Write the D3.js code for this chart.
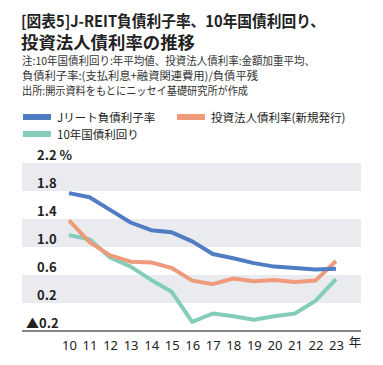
<!DOCTYPE html>
<html><head><meta charset="utf-8">
<script src="https://cdn.jsdelivr.net/npm/d3@7/dist/d3.min.js"></script>
<style>
html,body{margin:0;padding:0;background:#fff;}
svg{display:block;font-family:"Noto Sans CJK JP","Noto Sans",sans-serif;}
</style></head>
<body>
<script>
const years = [10,11,12,13,14,15,16,17,18,19,20,21,22,23];
const jreit = [1.77,1.71,1.53,1.35,1.24,1.21,1.08,0.90,0.84,0.77,0.72,0.70,0.68,0.69];
const bond  = [1.38,1.07,0.88,0.79,0.78,0.70,0.52,0.47,0.55,0.51,0.53,0.50,0.52,0.80];
const jgb   = [1.17,1.11,0.85,0.72,0.53,0.36,-0.07,0.05,0.01,-0.04,0.01,0.05,0.23,0.54];
const yTicks = [-0.2,0.2,0.6,1.0,1.4,1.8,2.2];
const yTickLabels = ["▲0.2","0.2","0.6","1.0","1.4","1.8","2.2 %"];
const seriesNames = ["Jリート負債利子率","投資法人債利率(新規発行)","10年国債利回り"];
const colors = ["#4f7cc3","#f09a7c","#84cdbb"];

const W=383,H=365;
const svg=d3.select("body").append("svg").attr("width",W).attr("height",H);

// title
svg.append("text").attr("x",21).attr("y",27).attr("font-size",15.5).attr("font-weight",700).attr("fill","#222")
  .attr("textLength",304).attr("lengthAdjust","spacingAndGlyphs")
  .text("[図表5]J-REIT負債利子率、10年国債利回り、");
svg.append("text").attr("x",21).attr("y",48.5).attr("font-size",16.5).attr("font-weight",700).attr("fill","#222")
  .attr("textLength",174).attr("lengthAdjust","spacingAndGlyphs")
  .text("投資法人債利率の推移");
const notes=["注:10年国債利回り:年平均値、投資法人債利率:金額加重平均、","負債利子率:(支払利息+融資関連費用)/負債平残","出所:開示資料をもとにニッセイ基礎研究所が作成"];
const noteW=[293,236,226];
notes.forEach((t,i)=>svg.append("text").attr("x",22).attr("y",65+i*15).attr("font-size",11).attr("fill","#333")
  .attr("textLength",noteW[i]).attr("lengthAdjust","spacingAndGlyphs").text(t));

// legend
const leg=[{x:23,y:117,i:0,w:94},{x:177,y:117,i:1,w:138},{x:23,y:134,i:2,w:80}];
leg.forEach(l=>{
  svg.append("rect").attr("x",l.x).attr("y",l.y-3).attr("width",28).attr("height",6).attr("fill",colors[l.i]);
  svg.append("text").attr("x",l.x+34).attr("y",l.y+4.5).attr("font-size",11.5).attr("fill","#222").text(seriesNames[l.i]);
});

const x=d3.scalePoint().domain(years).range([69,336]);
const y=d3.scaleLinear().domain([-0.2,2.2]).range([331,163]);
const left=22,right=361;

// bands
[[1.8,2.2],[1.0,1.4],[0.2,0.6]].forEach(b=>{
  svg.append("rect").attr("x",left).attr("width",right-left).attr("y",y(b[1])).attr("height",y(b[0])-y(b[1])).attr("fill","#e9ebee");
});

// y labels
yTicks.forEach((v,i)=>{
  svg.append("text").attr("x",i===0?26:37).attr("y",y(v)-3).attr("font-size",13).attr("font-weight",700).attr("fill","#222").text(yTickLabels[i]);
});

// axis
const xAxis=d3.axisBottom(x).tickSize(0).tickPadding(10).tickFormat(d=>d);
const ax=svg.append("g").attr("transform",`translate(0,${y(-0.2)})`).call(xAxis);
ax.select(".domain").remove();
ax.selectAll("text").attr("font-size",13).attr("fill","#222").attr("font-family","'Noto Sans','Noto Sans CJK JP',sans-serif");
svg.append("line").attr("x1",left).attr("x2",right).attr("y1",y(-0.2)).attr("y2",y(-0.2)).attr("stroke","#111").attr("stroke-width",1.2);
svg.append("text").attr("x",355).attr("y",347).attr("text-anchor","middle").attr("font-size",12.5).attr("fill","#222").text("年");

// lines
const line=d3.line().x((d,i)=>x(years[i])).y(d=>y(d));
[[jgb,2],[bond,1],[jreit,0]].forEach(([s,c])=>{
  svg.append("path").datum(s).attr("d",line).attr("fill","none").attr("stroke",colors[c]).attr("stroke-width",4).attr("stroke-linejoin","round");
});
</script>
</body></html>
